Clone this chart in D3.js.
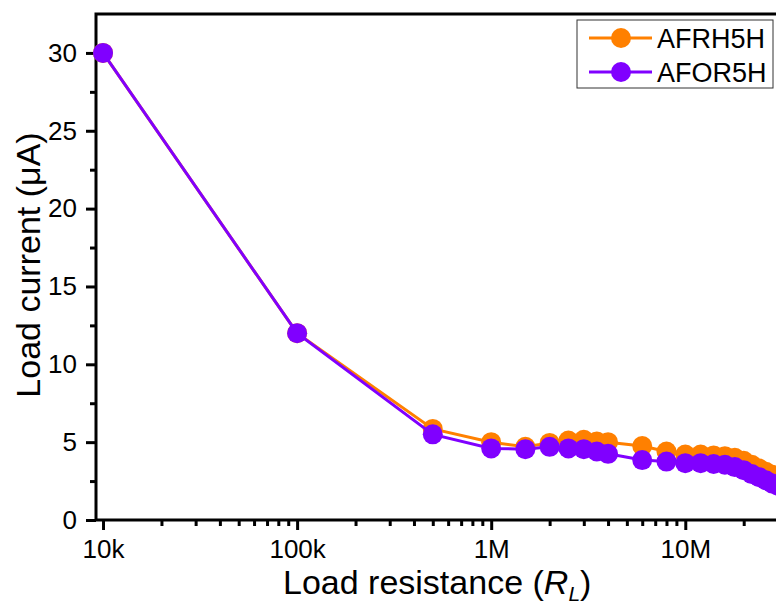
<!DOCTYPE html>
<html>
<head>
<meta charset="utf-8">
<style>
body { margin: 0; background: #fff; }
svg { display: block; font-family: "Liberation Sans", Arial, sans-serif; }
</style>
</head>
<body>
<svg width="776" height="604"></svg>
<script src="https://cdn.jsdelivr.net/npm/d3@7"></script>
<script>
// load resistance values (ohm)
var resistance = [1e4, 1e5, 5e5, 1e6, 1.5e6, 2e6, 2.5e6, 3e6, 3.5e6, 4e6, 6e6, 8e6,
  1e7, 1.2e7, 1.4e7, 1.6e7, 1.8e7, 2e7, 2.2e7, 2.4e7, 2.6e7, 2.8e7, 3e7];
// load current (uA)
var afrh5h = [30, 12, 5.85, 5.0, 4.7, 4.95, 5.1, 5.15, 5.05, 5.0, 4.75, 4.4,
  4.2, 4.2, 4.15, 4.1, 4.0, 3.8, 3.55, 3.3, 3.1, 2.9, 2.7];
var afor5h = [30, 12, 5.5, 4.6, 4.55, 4.7, 4.6, 4.55, 4.4, 4.25, 3.85, 3.75,
  3.65, 3.65, 3.6, 3.55, 3.4, 3.2, 2.95, 2.75, 2.55, 2.35, 2.2];
var seriesNames = ["AFRH5H", "AFOR5H"];
var seriesColors = ["#FF8000", "#8000FF"];
var xMajor = [1e4, 1e5, 1e6, 1e7];
var xMajorLabels = ["10k", "100k", "1M", "10M"];
var yMajor = [0, 5, 10, 15, 20, 25, 30];

var pLeft = 96, pRight = 800, pTop = 14, pBottom = 520;

var svg = d3.select("svg");

var x = d3.scaleLog().domain([9200, 3.9e7]).range([pLeft, pRight]);
var y = d3.scaleLinear().domain([0, 32.5]).range([pBottom, pTop]);

// minor ticks
var xMinor = [];
[1e4, 1e5, 1e6, 1e7].forEach(function(d){
  for (var k = 2; k <= 9; k++) xMinor.push(d * k);
});
xMinor = xMinor.filter(function(v){ return v < 3.9e7; });
var yMinor = [2.5, 7.5, 12.5, 17.5, 22.5, 27.5];

function styleAxis(g){
  g.select(".domain").remove();
  g.selectAll(".tick line").attr("stroke", "#000").attr("stroke-width", 3);
  g.selectAll(".tick text").attr("fill", "#000").style("font-size", "26px")
    .style("font-family", "'Liberation Sans', Arial, sans-serif");
}

svg.append("g")
  .attr("transform", "translate(0," + pBottom + ")")
  .call(d3.axisBottom(x).tickValues(xMinor).tickSize(6).tickFormat(""))
  .call(styleAxis);

svg.append("g")
  .attr("transform", "translate(0," + pBottom + ")")
  .call(d3.axisBottom(x).tickValues(xMajor).tickSize(10).tickPadding(10)
    .tickFormat(function(d, i){ return xMajorLabels[i]; }))
  .call(styleAxis);

svg.append("g")
  .attr("transform", "translate(" + pLeft + ",0)")
  .call(d3.axisLeft(y).tickValues(yMinor).tickSize(6).tickFormat(""))
  .call(styleAxis);

svg.append("g")
  .attr("transform", "translate(" + pLeft + ",0)")
  .call(d3.axisLeft(y).tickValues(yMajor).tickSize(10).tickPadding(9))
  .call(styleAxis);

// frame: left, bottom, top
svg.append("path")
  .attr("d", "M" + pRight + "," + pTop + "H" + pLeft + "V" + pBottom + "H" + pRight)
  .attr("fill", "none")
  .attr("stroke", "#000")
  .attr("stroke-width", 3);

// series
var line = d3.line()
  .x(function(d){ return x(d[0]); })
  .y(function(d){ return y(d[1]); });

[afrh5h, afor5h].forEach(function(vals, s){
  var pts = resistance.map(function(r, i){ return [r, vals[i]]; });
  var g = svg.append("g");
  g.append("path")
    .datum(pts)
    .attr("d", line)
    .attr("fill", "none")
    .attr("stroke", seriesColors[s])
    .attr("stroke-width", 3);
  g.selectAll("circle")
    .data(pts)
    .enter().append("circle")
    .attr("cx", function(d){ return x(d[0]); })
    .attr("cy", function(d){ return y(d[1]); })
    .attr("r", 10)
    .attr("fill", seriesColors[s]);
});

// axis titles
svg.append("text")
  .attr("x", 283)
  .attr("y", 594)
  .style("font-size", "34px")
  .html('Load resistance (<tspan font-style="italic">R</tspan><tspan font-style="italic" font-size="21px" dy="7">L</tspan><tspan dy="-7">)</tspan>');

svg.append("text")
  .attr("transform", "translate(40,265) rotate(-90)")
  .attr("text-anchor", "middle")
  .style("font-size", "34px")
  .text("Load current (\u03bcA)");

// legend
var legend = svg.append("g");
legend.append("rect")
  .attr("x", 577).attr("y", 20)
  .attr("width", 196).attr("height", 68)
  .attr("fill", "#fff")
  .attr("stroke", "#333")
  .attr("stroke-width", 1);

seriesNames.forEach(function(name, i){
  var cy = 38 + i * 34;
  legend.append("line")
    .attr("x1", 589).attr("x2", 652)
    .attr("y1", cy).attr("y2", cy)
    .attr("stroke", seriesColors[i])
    .attr("stroke-width", 3);
  legend.append("circle")
    .attr("cx", 621).attr("cy", cy).attr("r", 10)
    .attr("fill", seriesColors[i]);
  legend.append("text")
    .attr("x", 657).attr("y", cy + 10)
    .style("font-size", "27px")
    .text(name);
});
</script>
</body>
</html>
